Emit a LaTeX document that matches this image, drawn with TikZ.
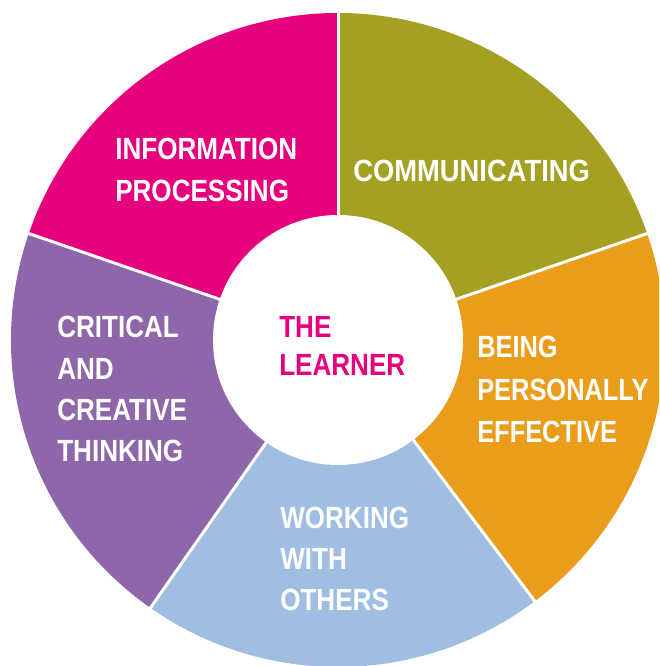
\documentclass[tikz,border=0pt]{standalone}
\usepackage{fontspec}
\usepackage{graphicx}
\newfontfamily\lblfont[FakeStretch=0.85]{Liberation Sans}
\definecolor{seginfo}{HTML}{E6007E}
\definecolor{segcomm}{HTML}{A3A022}
\definecolor{segbeing}{HTML}{EA9D1B}
\definecolor{segwork}{HTML}{A0BEE2}
\definecolor{segcrit}{HTML}{8E67AA}
\newcommand\lblstack[2]{\vtop{\baselineskip=#1\relax #2}}
\begin{document}
\begin{tikzpicture}[x=0.75pt,y=0.75pt,
  lbl/.style={anchor=base west, inner sep=0pt, text=white,
    font=\lblfont\bfseries\fontsize{23}{31.5}\selectfont},
  gapline/.style={white, line width=2.25pt}]
\useasboundingbox (-338,-326) rectangle (321,340);
\clip (-338,-326) rectangle (321,340);
% segments
\fill[seginfo]  (0,0) -- (90:327)  arc[start angle=90,  end angle=161, radius=327] -- cycle;
\fill[segcomm]  (0,0) -- (19:327)  arc[start angle=19,  end angle=90,  radius=327] -- cycle;
\fill[segbeing] (0,0) -- (-53:327) arc[start angle=-53, end angle=19,  radius=327] -- cycle;
\fill[segwork]  (0,0) -- (-125:327) arc[start angle=-125, end angle=-53, radius=327] -- cycle;
\fill[segcrit]  (0,0) -- (161:327) arc[start angle=161, end angle=235, radius=327] -- cycle;
% gaps
\foreach \a in {19,90,161,235,307} \draw[gapline] (0,0) -- (\a:337);
% centre
\fill[white] (0,0) circle[radius=125];
% labels
\node[lbl] (info) at (-223,180) {\lblstack{31.5pt}{\hbox{INFORMATION}\hbox{PROCESSING}}};
\node[lbl] (comm) at (15,158) {\scalebox{1.05}[1]{COMMUNICATING}};
\node[lbl] (being) at (139,-18) {\scalebox{0.975}[1]{\lblstack{31.8pt}{\hbox{BEING}\hbox{PERSONALLY}\hbox{EFFECTIVE}}}};
\node[lbl] (crit) at (-281,2) {\lblstack{31pt}{\hbox{CRITICAL}\hbox{AND}\hbox{CREATIVE}\hbox{THINKING}}};
\node[lbl] (work) at (-58,-188) {\lblstack{31.1pt}{\hbox{WORKING}\hbox{WITH}\hbox{OTHERS}}};
\node[lbl, text=seginfo] (learner) at (-59,2) {\lblstack{28.5pt}{\hbox{THE}\hbox{LEARNER}}};
\end{tikzpicture}
\end{document}
